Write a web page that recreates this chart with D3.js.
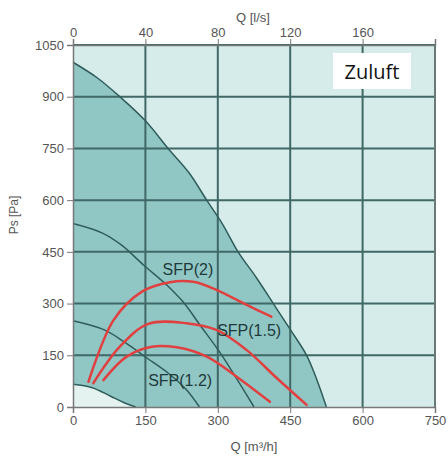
<!DOCTYPE html>
<html>
<head>
<meta charset="utf-8">
<script src="https://cdn.jsdelivr.net/npm/d3@7"></script>
<style>
  body { margin: 0; background: #fff; }
  .tick text { font-family: "Liberation Sans", Arial, sans-serif; font-size: 13px; fill: #555; }
  .tick line, .domain { stroke: #777; }
</style>
</head>
<body>
<script>
//fan curves (Q in m3/h, Ps in Pa)
var curveMax = [[0,1000],[50,955],[97,900],[150,830],[197,750],[240,680],[277,600],[310,530],[342,450],[380,375],[415,300],[450,225],[484,150],[505,80],[525,0]];
var curve2 = [[0,532],[60,505],[100,470],[146,412],[198,349],[228,305],[263,238],[305,157],[340,80],[375,0]];
var curve3 = [[0,250],[66,223],[110,185],[150,145],[200,95],[235,50],[262,0]];
var curveMin = [[0,66],[40,56],[77,32],[105,13],[130,0]];

//SFP lines
var sfp2 = [[32,73],[84,252],[142,334],[201,362],[249,363],[298,339],[360,296],[411,262]];
var sfp15 = [[42,69],[97,175],[156,241],[235,243],[298,223],[360,165],[422,84],[484,6]];
var sfp12 = [[63,78],[111,146],[163,175],[215,173],[277,146],[339,88],[408,15]];
var sfpLabels = [["SFP(2)", 238, 383], ["SFP(1.5)", 365, 206], ["SFP(1.2)", 222, 61]];

var qTicks = [0, 150, 300, 450, 600, 750];
var lsTicks = [0, 40, 80, 120, 160];
var psTicks = [0, 150, 300, 450, 600, 750, 900, 1050];

var svg = d3.select("body").append("svg")
    .attr("width", 448)
    .attr("height", 457);

var x = d3.scaleLinear().domain([0, 750]).range([73, 435]);
var xTop = d3.scaleLinear().domain([0, 200]).range([73, 435]);
var y = d3.scaleLinear().domain([0, 1050]).range([407, 45]);

var line = d3.line()
    .x(function(d){ return x(d[0]); })
    .y(function(d){ return y(d[1]); })
    .curve(d3.curveCatmullRom);

function areaPath(pts){
    return line(pts) + "L" + x(0) + "," + y(0) + "Z";
}

//background
svg.append("rect")
    .attr("x", x(0)).attr("y", y(1050))
    .attr("width", x(750) - x(0)).attr("height", y(0) - y(1050))
    .attr("fill", "#d5ecea");

svg.append("path").attr("d", areaPath(curveMax)).attr("fill", "#90c6c4");
svg.append("path").attr("d", areaPath(curveMin)).attr("fill", "#e4f2f0");

//grid
svg.selectAll(".vgrid").data(qTicks.slice(1)).enter().append("line")
    .attr("x1", function(d){ return x(d); }).attr("x2", function(d){ return x(d); })
    .attr("y1", y(0)).attr("y2", y(1050))
    .attr("stroke", "#3f6866").attr("stroke-width", 2);
svg.selectAll(".hgrid").data(psTicks.slice(1)).enter().append("line")
    .attr("x1", x(0)).attr("x2", x(750))
    .attr("y1", function(d){ return y(d); }).attr("y2", function(d){ return y(d); })
    .attr("stroke", "#3f6866").attr("stroke-width", 2);

//fan curves
[curveMax, curve2, curve3, curveMin].forEach(function(c){
    svg.append("path").attr("d", line(c))
        .attr("fill", "none").attr("stroke", "#2f5d5c").attr("stroke-width", 1.5);
});

//SFP red lines
[sfp2, sfp15, sfp12].forEach(function(c){
    svg.append("path").attr("d", line(c))
        .attr("fill", "none").attr("stroke", "#e0403f").attr("stroke-width", 2.5)
        .attr("stroke-linecap", "round");
});

svg.selectAll(".sfplabel").data(sfpLabels).enter().append("text")
    .attr("x", function(d){ return x(d[1]); })
    .attr("y", function(d){ return y(d[2]); })
    .attr("text-anchor", "middle")
    .attr("font-family", "Liberation Sans, Arial, sans-serif")
    .attr("font-size", 16)
    .attr("fill", "#1f3a3a")
    .text(function(d){ return d[0]; });

//axes
svg.append("g").attr("transform", "translate(0," + y(0) + ")")
    .call(d3.axisBottom(x).tickValues(qTicks).tickFormat(d3.format("d")).tickSize(6).tickPadding(3));
svg.append("g").attr("transform", "translate(0," + y(1050) + ")")
    .call(d3.axisTop(xTop).tickValues(lsTicks).tickFormat(d3.format("d")).tickSize(6).tickPadding(2));
svg.append("g").attr("transform", "translate(" + x(0) + ",0)")
    .call(d3.axisLeft(y).tickValues(psTicks).tickFormat(d3.format("d")).tickSize(6).tickPadding(3));

svg.selectAll(".domain").attr("stroke-width", 1.5);

//frame right side
svg.append("line")
    .attr("x1", x(750)).attr("x2", x(750)).attr("y1", y(0)).attr("y2", y(1050))
    .attr("stroke", "#6a7a79").attr("stroke-width", 2);

//axis titles
svg.append("text").attr("x", 253).attr("y", 22).attr("text-anchor", "middle")
    .attr("font-family", "Liberation Sans, Arial, sans-serif").attr("font-size", 13).attr("fill", "#555")
    .text("Q [l/s]");
svg.append("text").attr("x", 254).attr("y", 451).attr("text-anchor", "middle")
    .attr("font-family", "Liberation Sans, Arial, sans-serif").attr("font-size", 13).attr("fill", "#555")
    .text("Q [m³/h]");
svg.append("text").attr("transform", "translate(18,215) rotate(-90)").attr("text-anchor", "middle")
    .attr("font-family", "Liberation Sans, Arial, sans-serif").attr("font-size", 12).attr("fill", "#555")
    .text("Ps [Pa]");

//Zuluft label
svg.append("rect").attr("x", 333).attr("y", 53).attr("width", 78).attr("height", 36).attr("fill", "#fff");
svg.append("text").attr("x", 372).attr("y", 79).attr("text-anchor", "middle")
    .attr("font-family", "Open Sans, sans-serif").attr("font-size", 20).attr("fill", "#111")
    .text("Zuluft");
</script>
</body>
</html>
